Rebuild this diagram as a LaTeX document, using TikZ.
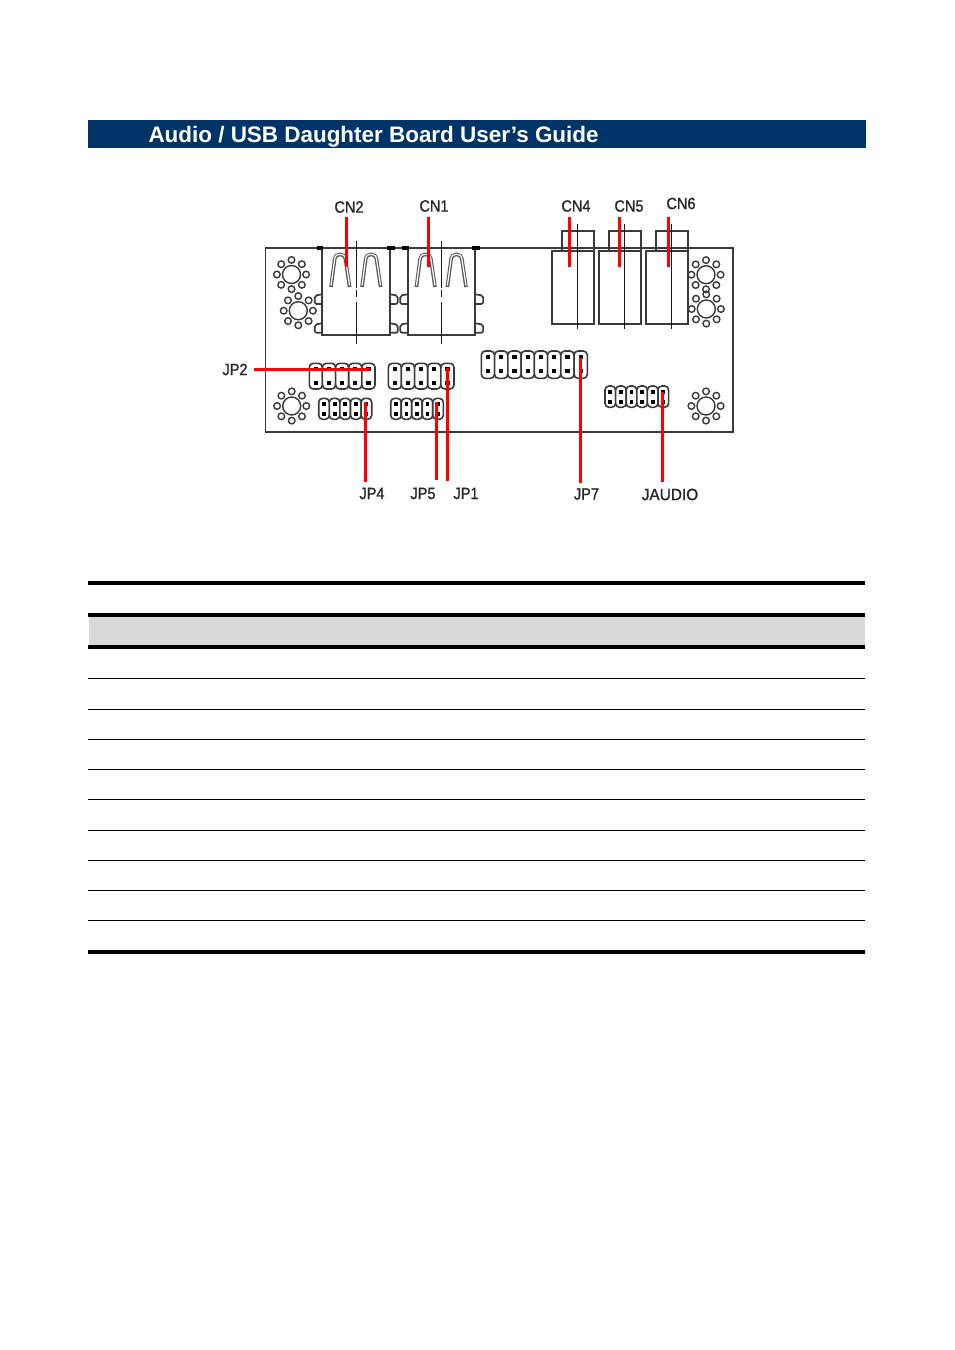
\documentclass[tikz,border=0pt]{standalone}
\usepackage{fontspec}
\setmainfont{Liberation Sans}
\newfontfamily\lblfont[FakeBold=1.1]{Liberation Sans}
\definecolor{navy}{HTML}{003366}
\definecolor{bandgray}{HTML}{D9D9D9}
\definecolor{ink}{HTML}{3A3A3A}
\definecolor{redline}{HTML}{FF0000}
\tikzset{
  every node/.style={inner sep=0pt,outer sep=0pt},
  lbl/.style={font=\lblfont\fontsize{10.9}{12}\selectfont,text=black!85,yscale=1.12,transform shape},
  pcb/.style={draw=ink,line width=1.9*0.75pt},
  part/.style={draw=ink,line width=1.7*0.75pt},
  centre/.style={draw=black!90,line width=1.3*0.75pt},
  pill/.style={draw=ink,line width=1.6*0.75pt,fill=white},
  pin/.style={fill=black,draw=none},
  hole/.style={draw=ink,line width=1.4*0.75pt},
  leader/.style={draw=redline,line width=3*0.75pt},
  thick rule/.style={draw=black,line width=3.8*0.75pt},
  thin rule/.style={draw=black,line width=1*0.75pt},
}
\newcommand{\mhole}[2]{%
  \begin{scope}[shift={(#1,#2)}]
    \draw[hole] (0,0) circle (9);
    \foreach \a in {90,135,...,405}{\draw[hole] (\a:14.6) circle (3.3);}
  \end{scope}}
\newcommand{\usbconn}[2]{%
  \begin{scope}[shift={(#1,0)}]
    \draw[part,fill=white,rounded corners=1.5pt] (0,294.3) -- (-7.5,295.5) -- (-7.5,304) -- (0,304);
    \draw[part,fill=white,rounded corners=1.5pt] (0,323.3) -- (-7.5,324.5) -- (-7.5,332.7) -- (0,332.7);
    \draw[part,fill=white,rounded corners=1.5pt] (67.4,294.3) -- (75.4,295.5) -- (75.4,304) -- (67.4,304);
    \draw[part,fill=white,rounded corners=1.5pt] (67.4,323.3) -- (75.4,324.5) -- (75.4,332.7) -- (67.4,332.7);
    \draw[part,fill=white] (0,248.3) rectangle (67.4,335.3);
    \fill[black] (-5.5,246.3) rectangle (0.8,250);
    \fill[black] (64.5,246.3) rectangle (72.5,250);
    \foreach \d in {0,31}{
      \draw[draw=black!65,line width=3.6*0.75pt,rounded corners=3pt] (8.7+\d,287) -- (13+\d,254.5) -- (22.5+\d,254.5) -- (27.3+\d,287);
      \draw[draw=white,line width=1.2*0.75pt,rounded corners=2.5pt] (8.7+\d,285.5) -- (13+\d,254.5) -- (22.5+\d,254.5) -- (27.3+\d,285.5);
    }
    \draw[centre] (#2,240.7) -- (#2,288) (#2,290) -- (#2,296.7) (#2,301.7) -- (#2,344);
  \end{scope}}
\newcommand{\jack}[2]{%
  \begin{scope}[shift={(#1,0)}]
    \draw[part] (9.4,250.7) -- (9.4,230.7) -- (41.4,230.7) -- (41.4,250.7);
    \draw[part] (0,250.7) rectangle (42,324);
    \draw[centre] (#2,224.3) -- (#2,329);
  \end{scope}}
% header: x left, y top, y bottom, cell width, cell count, pin y1, pin y2, pin size
\newcommand{\header}[8]{%
  \foreach \i in {1,...,#5}{
    \pgfmathsetmacro{\xa}{#1+(\i-1)*#4}
    \pgfmathsetmacro{\xb}{#1+\i*#4}
    \pgfmathsetmacro{\xc}{#1+(\i-.5)*#4}
    \draw[pill,rounded corners=4*0.75pt] (\xa,#2) rectangle (\xb,#3);
    \fill[pin] (\xc-#8/2,#6-#8/2) rectangle (\xc+#8/2,#6+#8/2);
    \fill[pin] (\xc-#8/2,#7-#8/2) rectangle (\xc+#8/2,#7+#8/2);
  }}
\begin{document}
\begin{tikzpicture}[x=0.75pt,y=-0.75pt]
\useasboundingbox[fill=white] (0,0) rectangle (954,1350);
% title bar
\node[fill=navy,minimum width=778*0.75pt,minimum height=28*0.75pt,anchor=north west] (bar) at (88,120) {};
\node[anchor=base west,text=white,font=\fontsize{16.83}{20}\selectfont\bfseries] (title) at (148.5,142.3) {Audio / USB Daughter Board User’s Guide};
% board
\draw[pcb] (265.5,248.3) rectangle (733,432);
\usbconn{322.3}{34.2}
\usbconn{407.7}{33.8}
\jack{552.3}{25.2}
\jack{599.3}{25.2}
\jack{646.3}{25.2}
\mhole{291.5}{274.5}
\mhole{298.3}{310.7}
\mhole{706}{274.7}
\mhole{706.3}{309}
\mhole{291.7}{406}
\mhole{706}{406}
\header{309.3}{363.3}{389}{13.14}{5}{369.3}{382.7}{4.2}
\header{388.3}{363.3}{389}{13.14}{5}{369.3}{382.7}{4.2}
\header{318.7}{398.3}{419.3}{10.6}{5}{403.7}{414.3}{3.8}
\header{390.7}{398.3}{419.3}{10.52}{5}{403.7}{414.3}{3.8}
\header{481.3}{351}{378.3}{13.25}{8}{357.3}{371}{4.2}
\header{605}{386}{407.3}{10.6}{6}{391.7}{401.7}{3.8}
% labels
\node[lbl] (cn2) at (349,207) {CN2};
\node[lbl] (cn1) at (434,206) {CN1};
\node[lbl] (cn4) at (576,206) {CN4};
\node[lbl] (cn5) at (629,206) {CN5};
\node[lbl] (cn6) at (681,203.5) {CN6};
\node[lbl] (jp2) at (235,369.5) {JP2};
\node[lbl] (jp4) at (372,493.5) {JP4};
\node[lbl] (jp5) at (423,493.5) {JP5};
\node[lbl] (jp1) at (466,493.5) {JP1};
\node[lbl] (jp7) at (586.5,494) {JP7};
\node[lbl,xscale=1.06] (jaudio) at (670,494.5) {JAUDIO};
% leaders
\coordinate (a2) at (346,216.7); \coordinate (b2) at (346,266.7);
\coordinate (a1) at (428.3,216.7); \coordinate (b1) at (428.3,266.7);
\coordinate (a4) at (569.3,216.7); \coordinate (b4) at (569.3,266.7);
\coordinate (a5) at (619.3,216.7); \coordinate (b5) at (619.3,266.7);
\coordinate (a6) at (668.7,216.7); \coordinate (b6) at (668.7,266.7);
\coordinate (ja) at (254.3,369.7); \coordinate (jb) at (370,369.7);
\coordinate (la) at (447.7,367.7); \coordinate (lb) at (447.7,480.7);
\coordinate (ma) at (436.7,401.7); \coordinate (mb) at (436.7,480);
\coordinate (na) at (365.3,401.7); \coordinate (nb) at (365.3,481.7);
\coordinate (oa) at (580,357.7); \coordinate (ob) at (580,482.7);
\coordinate (pa) at (662.3,391.7); \coordinate (pb) at (662.3,481.7);
\draw[leader] (a2) -- (b2);
\draw[leader] (a1) -- (b1);
\draw[leader] (a4) -- (b4);
\draw[leader] (a5) -- (b5);
\draw[leader] (a6) -- (b6);
\draw[leader] (ja) -- (jb);
\draw[leader] (la) -- (lb);
\draw[leader] (ma) -- (mb);
\draw[leader] (na) -- (nb);
\draw[leader] (oa) -- (ob);
\draw[leader] (pa) -- (pb);
% table
\fill[bandgray] (89,616) rectangle (865,647);
\draw[thick rule] (88,582.8) -- (865,582.8);
\draw[thick rule] (88,615.2) -- (865,615.2);
\draw[thick rule] (88,647.3) -- (865,647.3);
\foreach \y in {678.5,709.5,739.5,769.5,799.5,830.5,860.5,890.5,920.5}{\draw[thin rule] (88,\y) -- (865,\y);}
\draw[thick rule] (87.5,952) -- (865,952);
\end{tikzpicture}
\end{document}
